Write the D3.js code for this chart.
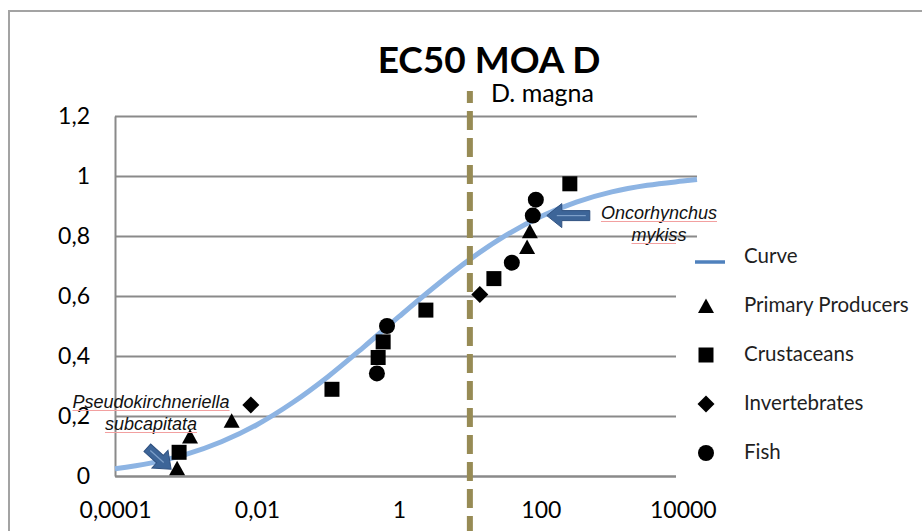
<!DOCTYPE html>
<html>
<head>
<meta charset="utf-8">
<script src="https://cdn.jsdelivr.net/npm/d3@7"></script>
<style>
  body { margin: 0; background: #fff; }
  svg { display: block; }
</style>
</head>
<body>
<div id="chart"></div>
<script>
// axis ticks
const xTicks = [0.0001, 0.01, 1, 100, 10000];
const xTickLabels = ["0,0001", "0,01", "1", "100", "10000"];
const yTicks = [0, 0.2, 0.4, 0.6, 0.8, 1, 1.2];
const yTickLabels = ["0", "0,2", "0,4", "0,6", "0,8", "1", "1,2"];

// fitted curve
const curveX = [0.0001, 0.000316, 0.001, 0.00316, 0.01, 0.0316, 0.1, 0.316, 1, 3.16, 10, 31.6, 100, 316, 1000, 3162, 10000, 15849];
const curveY = [0.024, 0.043, 0.072, 0.114, 0.171, 0.244, 0.331, 0.429, 0.531, 0.630, 0.722, 0.801, 0.865, 0.913, 0.947, 0.969, 0.983, 0.988];

// species points
const producersX = [0.00075, 0.00114, 0.0044, 64, 70];
const producersY = [0.026, 0.132, 0.184, 0.763, 0.816];
const crustaceansX = [0.0008, 0.114, 0.51, 0.6, 2.4, 21.8, 256];
const crustaceansY = [0.079, 0.289, 0.395, 0.447, 0.553, 0.658, 0.974];
const invertebratesX = [0.0082, 13.8];
const invertebratesY = [0.237, 0.605];
const fishX = [0.49, 0.68, 39, 77, 85];
const fishY = [0.342, 0.5, 0.711, 0.868, 0.921];

const dMagna = 10; // D. magna EC50 line

const W = 922, H = 531;
const plot = { left: 115, right: 697, top: 116, bottom: 476 };

const x = d3.scaleLog().domain([0.0001, 15849]).range([plot.left, plot.right]);
const y = d3.scaleLinear().domain([0, 1.2]).range([plot.bottom, plot.top]);

const svg = d3.select("#chart").append("svg")
  .attr("width", W)
  .attr("height", H);

// chart border (only top + left visible in the crop)
svg.append("path")
  .attr("d", "M9," + H + " L9,11 L" + W + ",11")
  .attr("fill", "none")
  .attr("stroke", "#a3a3a3")
  .attr("stroke-width", 2);

// y axis with gridlines
const yAxis = svg.append("g")
  .attr("transform", "translate(" + plot.left + ",0)")
  .call(d3.axisLeft(y)
    .tickValues(yTicks)
    .tickFormat((d, i) => yTickLabels[i])
    .tickSizeInner(-(plot.right - plot.left))
    .tickSizeOuter(0)
    .tickPadding(25));
yAxis.selectAll(".tick line").attr("stroke", "#8a8a8a").attr("stroke-width", 2);
yAxis.select(".domain").attr("stroke", "#8a8a8a").attr("stroke-width", 2);
yAxis.selectAll("text")
  .attr("font-family", "Lato, sans-serif")
  .attr("font-size", 23)
  .attr("fill", "#000");

// x axis
const xAxis = svg.append("g")
  .attr("transform", "translate(0," + plot.bottom + ")")
  .call(d3.axisBottom(x)
    .tickValues(xTicks)
    .tickFormat((d, i) => xTickLabels[i])
    .tickSize(0)
    .tickPadding(26));
xAxis.select(".domain").attr("stroke", "#8a8a8a").attr("stroke-width", 2);
xAxis.selectAll("text")
  .attr("font-family", "Lato, sans-serif")
  .attr("font-size", 23)
  .attr("fill", "#000");

// curve
const curvePts = curveX.map((d, i) => [d, curveY[i]]);
svg.append("path")
  .datum(curvePts)
  .attr("fill", "none")
  .attr("stroke", "#8db4e3")
  .attr("stroke-width", 5)
  .attr("d", d3.line().x(d => x(d[0])).y(d => y(d[1])).curve(d3.curveMonotoneX));

// D. magna dashed line
svg.append("line")
  .attr("x1", x(dMagna)).attr("x2", x(dMagna))
  .attr("y1", 91).attr("y2", H)
  .attr("stroke", "#978b55")
  .attr("stroke-width", 6)
  .attr("stroke-dasharray", "19,8")
  .attr("stroke-dashoffset", 7);

svg.append("text")
  .attr("x", x(dMagna) + 21)
  .attr("y", 102)
  .attr("font-family", "Lato, sans-serif")
  .attr("font-size", 25)
  .text("D. magna");

// title
svg.append("text")
  .attr("x", 489)
  .attr("y", 73)
  .attr("text-anchor", "middle")
  .attr("font-family", "Lato, sans-serif")
  .attr("font-weight", "bold")
  .attr("font-size", 37)
  .text("EC50 MOA D");

// marker shapes
const shapes = {
  triangle: "M0,-7.5L8,7L-8,7Z",
  square: "M-7.5,-7.5H7.5V7.5H-7.5Z",
  diamond: "M0,-8.5L8.5,0L0,8.5L-8.5,0Z",
  circle: d3.symbol().type(d3.symbolCircle).size(Math.PI * 64)()
};

function drawPoints(xs, ys, shape, cls) {
  svg.append("g").attr("class", cls)
    .selectAll("path")
    .data(xs.map((d, i) => [d, ys[i]]))
    .enter().append("path")
    .attr("d", shapes[shape])
    .attr("transform", d => "translate(" + x(d[0]) + "," + y(d[1]) + ")")
    .attr("fill", "#000");
}
drawPoints(producersX, producersY, "triangle", "producers");
drawPoints(crustaceansX, crustaceansY, "square", "crustaceans");
drawPoints(invertebratesX, invertebratesY, "diamond", "invertebrates");
drawPoints(fishX, fishY, "circle", "fish");

// block arrows
function arrow(tipX, tipY, len, angle) {
  const g = svg.append("g")
    .attr("transform", "translate(" + tipX + "," + tipY + ") rotate(" + angle + ")");
  g.append("path")
    .attr("d", "M0,0 L-15,-12 L-15,-5 L-" + len + ",-5 L-" + len + ",5 L-15,5 L-15,12 Z")
    .attr("fill", "#3d6598")
    .attr("stroke", "#2f5180")
    .attr("stroke-width", 1);
  g.append("line")
    .attr("x1", -len + 4).attr("x2", -10)
    .attr("y1", 0).attr("y2", 0)
    .attr("stroke", "#7d9fc9")
    .attr("stroke-width", 1.2);
}
arrow(x(producersX[0]) - 6, y(producersY[0]) + 1, 32, 42);
arrow(x(fishX[3]) + 14, y(fishY[3]), 43, 180);

// species annotations
function note(lines, cx, y0) {
  lines.forEach((t, i) => {
    const txt = svg.append("text")
      .attr("x", cx)
      .attr("y", y0 + i * 22)
      .attr("text-anchor", "middle")
      .attr("font-family", "Liberation Sans, Arial, sans-serif")
      .attr("font-style", "italic")
      .attr("font-size", 18)
      .attr("fill", "#111")
      .text(t);
    const bb = txt.node().getBBox();
    svg.append("line")
      .attr("x1", bb.x).attr("x2", bb.x + bb.width)
      .attr("y1", y0 + i * 22 + 2.5).attr("y2", y0 + i * 22 + 2.5)
      .attr("stroke", "#f2a0a0")
      .attr("stroke-width", 1);
  });
}
note(["Pseudokirchneriella", "subcapitata"], 151, 408);
note(["Oncorhynchus", "mykiss"], 659, 219);

// legend
svg.append("rect")
  .attr("x", 676).attr("y", 242)
  .attr("width", W - 676).attr("height", 246)
  .attr("fill", "#fff");

const legendItems = [
  { label: "Curve", shape: "line" },
  { label: "Primary Producers", shape: "triangle" },
  { label: "Crustaceans", shape: "square" },
  { label: "Invertebrates", shape: "diamond" },
  { label: "Fish", shape: "circle" }
];
const lg = svg.append("g").attr("class", "legend");
legendItems.forEach((d, i) => {
  const cy = 257 + i * 49;
  if (d.shape === "line") {
    lg.append("line")
      .attr("x1", 695).attr("x2", 725)
      .attr("y1", cy + 5).attr("y2", cy + 5)
      .attr("stroke", "#4f81bd")
      .attr("stroke-width", 3.5);
  } else {
    lg.append("path")
      .attr("d", shapes[d.shape])
      .attr("transform", "translate(706," + cy + ")")
      .attr("fill", "#000");
  }
  lg.append("text")
    .attr("x", 744)
    .attr("y", cy + 6)
    .attr("font-family", "Lato, sans-serif")
    .attr("font-size", 20.5)
    .attr("fill", "#1f1f1f")
    .text(d.label);
});
</script>
</body>
</html>
